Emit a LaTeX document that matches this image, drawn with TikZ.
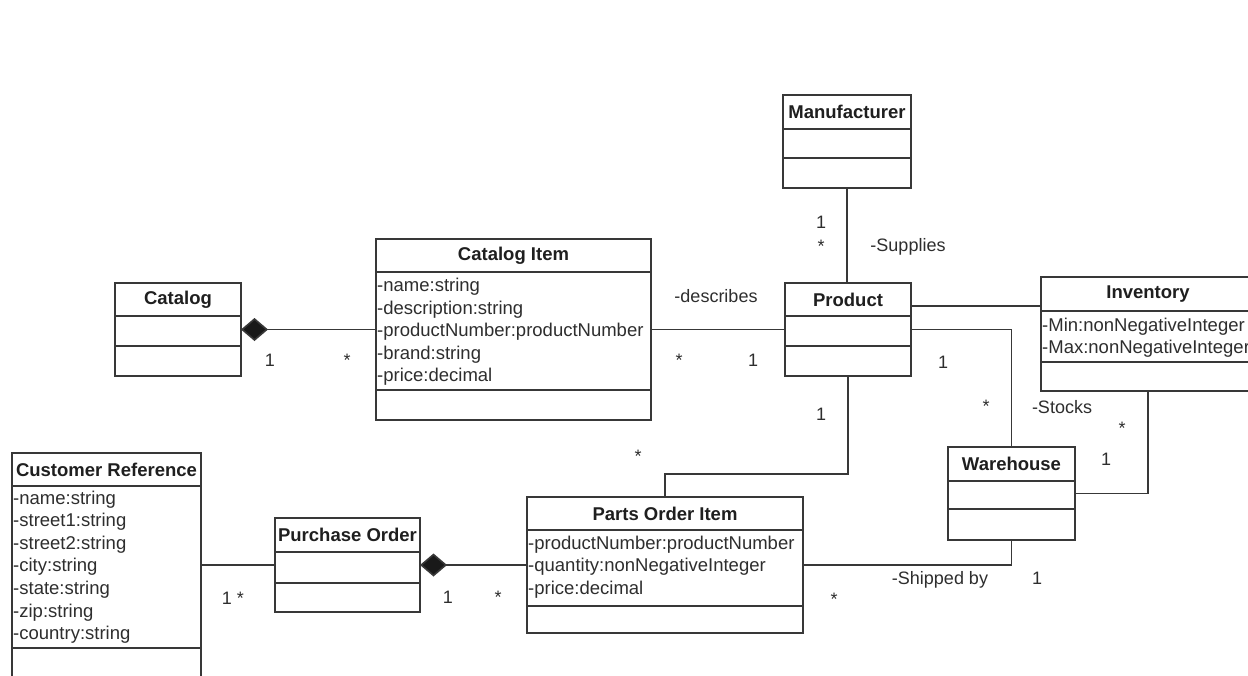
\documentclass[tikz,border=0pt]{standalone}
\usepackage{fontspec}
\setmainfont{Liberation Sans}
\usetikzlibrary{arrows.meta}
\tikzset{
  ln/.style={draw=black!78, line width=1.6pt},
  cls/.style={rectangle, draw=black!78, line width=1.6pt, inner sep=0pt, outer sep=0pt, fill=white},
  ttl/.style={font=\fontsize{18.5}{22}\selectfont\bfseries, text=black!88, inner sep=0pt},
  attr/.style={font=\fontsize{18.5}{22}\selectfont, text=black!82, inner sep=0pt, anchor=base west},
  lbl/.style={font=\fontsize{18}{22}\selectfont, text=black!82, inner sep=0pt, anchor=base},
  comp/.style={ln, {Diamond[length=27pt,width=23pt,fill=black!90]}-}
}
% name, x1, y1, x2, y2, divider1, divider2, title
\newcommand{\umlbox}[8]{%
  \node[cls, minimum width={#4-#2}, minimum height={#5-#3}] (#1) at ({(#2+#4)/2},{(#3+#5)/2}) {};
  \draw[ln] (#2,#6) -- (#4,#6);
  \draw[ln] (#2,#7) -- (#4,#7);
  \node[ttl] (#1-t) at ({(#2+#4)/2},{(#3+#6)/2}) {#8};
}
% name, x, first baseline, list
\newcommand{\umlattrs}[4]{%
  \foreach \t [count=\i] in {#4} {
    \node[attr] (#1-a\i) at (#2,{#3+(\i-1)*22.6}) {\t};
  }
}
\begin{document}
\begin{tikzpicture}[x=1pt,y=-1pt]
\useasboundingbox (0,0) rectangle (1248,675);
\fill[white] (0,0) rectangle (1248,675);
\clip (0,0) rectangle (1248,675);

\umlbox{catalog}{115}{283}{241}{376}{316}{346}{Catalog}
\umlbox{citem}{376}{239}{651}{420}{272}{390}{Catalog Item}
\umlattrs{citem}{377}{291.5}{-name:string,-description:string,-productNumber:productNumber,-brand:string,-price:decimal}
\umlbox{product}{785}{283}{911}{376}{316}{346}{Product}
\umlbox{manuf}{783}{95}{911}{188}{129}{158}{Manufacturer}
\umlbox{inventory}{1041}{277}{1255}{391}{311}{362}{Inventory}
\umlattrs{inventory}{1042}{331}{-Min:nonNegativeInteger,-Max:nonNegativeInteger}
\umlbox{warehouse}{948}{447}{1075}{540}{481}{509}{Warehouse}
\umlbox{po}{275}{518}{420}{612}{552}{583}{Purchase Order}
\umlbox{poi}{527}{497}{803}{633}{530}{606}{Parts Order Item}
\umlattrs{poi}{528}{549}{-productNumber:productNumber,-quantity:nonNegativeInteger,-price:decimal}
\umlbox{cref}{12}{453}{201}{690}{486}{648}{Customer Reference}
\umlattrs{cref}{13}{504}{-name:string,-street1:string,-street2:string,-city:string,-state:string,-zip:string,-country:string}

% connectors
\draw[comp] (catalog.east) -- (citem.west);
\draw[ln] (citem.east) -- (product.west);
\draw[ln] (manuf.south) -- (manuf.south |- product.north);
\coordinate (pinv) at ([yshift=23.5pt]product.east);
\draw[ln] (pinv) -- (pinv -| inventory.west);
\draw[ln] (product.east) -| (warehouse.north);
\draw[ln] (inventory.south) |- (warehouse.east);
\draw[ln] (warehouse.south) |- (poi.east);
\draw[ln] (poi.north) -- ++(0,-23) -| (product.south);
\draw[comp] (po.east) -- (poi.west);
\draw[ln] (po.west) -- (po.west -| cref.east);

% labels
\node[lbl] (l1) at (270,366) {1};
\node[lbl] (l2) at (347,366) {*};
\node[lbl] (l3) at (716,302) {-describes};
\node[lbl] (l4) at (679,366) {*};
\node[lbl] (l5) at (753,366) {1};
\node[lbl] (l6) at (821,228.5) {1};
\node[lbl] (l7) at (821,252) {*};
\node[lbl] (l8) at (908,251) {-Supplies};
\node[lbl] (l9) at (943,368) {1};
\node[lbl] (l10) at (986,412) {*};
\node[lbl] (l11) at (1062,413) {-Stocks};
\node[lbl] (l12) at (1122,434) {*};
\node[lbl] (l13) at (1106,465) {1};
\node[lbl] (l14) at (821,420) {1};
\node[lbl] (l15) at (638,462) {*};
\node[lbl] (l16) at (940,584) {-Shipped by};
\node[lbl] (l17) at (1037,584) {1};
\node[lbl] (l18) at (834,605) {*};
\node[lbl] (l19) at (233,604) {1 *};
\node[lbl] (l20) at (448,603) {1};
\node[lbl] (l21) at (498,603) {*};
\end{tikzpicture}
\end{document}
